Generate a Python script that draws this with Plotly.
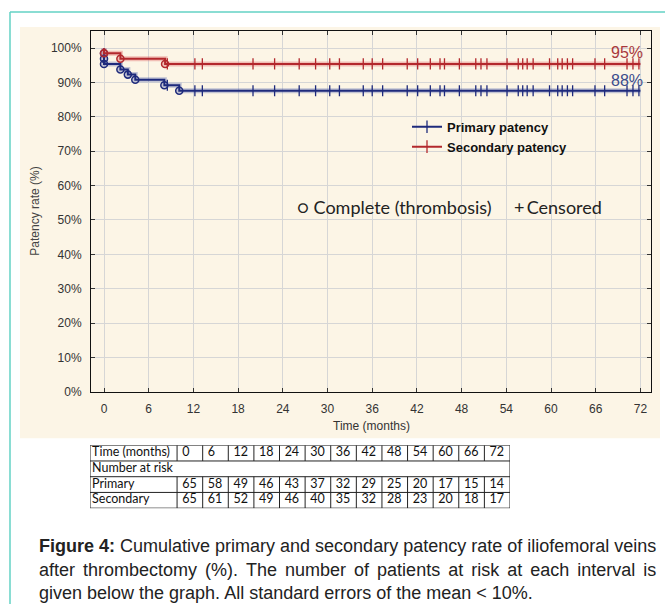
import plotly.graph_objects as go

W, H = 665, 605
FIG_H = 611  # compensates the slight vertical squeeze of the page photo

# ---------------- data ----------------
month_ticks = [0, 6, 12, 18, 24, 30, 36, 42, 48, 54, 60, 66, 72]
y_ticks = [0, 10, 20, 30, 40, 50, 60, 70, 80, 90, 100]
y_tick_labels = ["0%", "10%", "20%", "30%", "40%", "50%", "60%", "70%", "80%", "90%", "100%"]

primary_event_t = [0, 0, 0, 2.2, 3.2, 4.2, 8.1, 10.1]
primary_event_s = [98.5, 96.9, 95.4, 93.8, 92.3, 90.8, 89.2, 87.6]
secondary_event_t = [0, 2.2, 8.2]
secondary_event_s = [98.5, 96.9, 95.4]
censor_t = [8.5, 12.2, 13.2, 20.0, 22.9, 26.2, 28.4, 30.3, 31.6, 34.8, 36.0, 37.4,
            40.7, 42.1, 43.8, 45.1, 45.7, 47.7, 49.9, 50.6, 51.4, 54.1, 55.6, 56.2,
            56.8, 57.6, 59.8, 60.9, 61.5, 62.2, 62.9, 65.9, 67.2, 70.2, 71.0, 71.8]
follow_up_end = 72
primary_label = "88%"
secondary_label = "95%"

primary_at_risk = [65, 58, 49, 46, 43, 37, 32, 29, 25, 20, 17, 15, 14]
secondary_at_risk = [65, 61, 52, 49, 46, 40, 35, 32, 28, 23, 20, 18, 17]
table_row_labels = ["Time (months)", "Number at risk", "Primary", "Secondary"]

BLUE = "#1e2a7c"
RED = "#b3282d"
CREAM = "#fcf5e6"
TEAL = "#63d2c4"
FONT = "Liberation Sans"
TFONT = dict(family="Lato", size=12.5, color="#111")


def px(x):
    return x / W


def py(y):
    return 1 - y / H


def step_xy(ev_t, ev_s, end):
    xs = [0] + list(ev_t) + [end]
    ys = [100] + list(ev_s) + [ev_s[-1]]
    return xs, ys


def surv_at(t, ev_t, ev_s):
    s = 100
    for et, es in zip(ev_t, ev_s):
        if et <= t:
            s = es
    return s


fig = go.Figure()

series = [
    ("Primary patency", primary_event_t, primary_event_s, BLUE, "rgba(60,80,170,0.30)"),
    ("Secondary patency", secondary_event_t, secondary_event_s, RED, "rgba(220,90,90,0.35)"),
]

for name, et, es, col, halo in series:
    xs, ys = step_xy(et, es, follow_up_end)
    fig.add_trace(go.Scatter(x=xs, y=ys, mode="lines", line=dict(color=halo, width=5, shape="hv"),
                             showlegend=False, hoverinfo="skip"))
    fig.add_trace(go.Scatter(x=xs, y=ys, mode="lines", line=dict(color=col, width=2, shape="hv"),
                             showlegend=False, name=name))
    fig.add_trace(go.Scatter(x=et, y=es, mode="markers",
                             marker=dict(symbol="circle-open", size=7, color=col, line=dict(width=1.6, color=col)),
                             showlegend=False))
    cy = [surv_at(t, et, es) for t in censor_t]
    fig.add_trace(go.Scatter(x=censor_t, y=cy, mode="markers",
                             marker=dict(symbol="line-ns", size=8, line=dict(width=1.3, color=col)),
                             showlegend=False))

# legend entries
for name, et, es, col, halo in series:
    fig.add_trace(go.Scatter(x=[None], y=[None], mode="lines+markers", name=name,
                             line=dict(color=col, width=2),
                             marker=dict(symbol="line-ns", size=9, line=dict(width=1.3, color=col))))

# end labels
fig.add_annotation(x=follow_up_end, y=secondary_event_s[-1], text=secondary_label, showarrow=False,
                   xanchor="right", yanchor="bottom", xshift=5, yshift=1,
                   font=dict(family=FONT, size=16, color="#a8383c"))
fig.add_annotation(x=follow_up_end, y=primary_event_s[-1], text=primary_label, showarrow=False,
                   xanchor="right", yanchor="bottom", xshift=5, yshift=0,
                   font=dict(family=FONT, size=16, color="#3b4c8c"))

# ---------------- table (second axes) ----------------
ncol = len(month_ticks)
first_w = 3.4
for vals, yrow in [(month_ticks, 3.5), (primary_at_risk, 1.5), (secondary_at_risk, 0.5)]:
    fig.add_trace(go.Scatter(x=[i + 0.2 for i in range(ncol)], y=[yrow] * ncol, mode="text",
                             text=[str(v) for v in vals], textposition="middle right", textfont=TFONT,
                             xaxis="x2", yaxis="y2", showlegend=False, hoverinfo="skip"))
fig.add_trace(go.Scatter(x=[-first_w + 0.08] * 4, y=[3.5, 2.5, 1.5, 0.5], mode="text",
                         text=table_row_labels, textposition="middle right", textfont=TFONT,
                         xaxis="x2", yaxis="y2", showlegend=False, hoverinfo="skip"))

shapes = []
lc = dict(color="#222", width=1)
for r in range(5):
    shapes.append(dict(type="line", xref="x2", yref="y2", x0=-first_w, x1=ncol, y0=r, y1=r, line=lc))
for xv in [-first_w, ncol]:
    shapes.append(dict(type="line", xref="x2", yref="y2", x0=xv, x1=xv, y0=0, y1=4, line=lc))
for i in range(ncol):
    shapes.append(dict(type="line", xref="x2", yref="y2", x0=i, x1=i, y0=3, y1=4, line=lc))
    shapes.append(dict(type="line", xref="x2", yref="y2", x0=i, x1=i, y0=0, y1=2, line=lc))

# background panel + teal border
shapes.append(dict(type="rect", xref="paper", yref="paper", x0=px(20), x1=px(660), y0=py(439), y1=py(27),
                   fillcolor=CREAM, line=dict(width=0), layer="below"))
shapes.append(dict(type="line", xref="paper", yref="paper", x0=px(10), x1=1, y0=py(12), y1=py(12),
                   line=dict(color=TEAL, width=1.5)))
shapes.append(dict(type="line", xref="paper", yref="paper", x0=px(10), x1=px(10), y0=0, y1=py(12),
                   line=dict(color=TEAL, width=1.5)))

# annotations
fig.add_annotation(xref="paper", yref="paper", x=px(35), y=py(212), xanchor="center", yanchor="middle",
                   text="Patency rate (%)", textangle=-90,
                   showarrow=False, font=dict(family=FONT, size=12, color="#444"))
fig.add_annotation(xref="paper", yref="paper", x=px(371), y=py(427), xanchor="center", yanchor="middle",
                   text="Time (months)", showarrow=False, font=dict(family=FONT, size=12, color="#333"))
fig.add_annotation(xref="paper", yref="paper", x=px(295), y=py(207), xanchor="left", yanchor="middle",
                   text="○ Complete (thrombosis)", showarrow=False,
                   font=dict(family="Lato", size=18, color="#222"))
fig.add_annotation(xref="paper", yref="paper", x=px(512), y=py(207), xanchor="left", yanchor="middle",
                   text="+\u2009Censored", showarrow=False,
                   font=dict(family="Lato", size=18, color="#222"))

GAP = " \u2006"
caption = [
    "<b>Figure 4:</b> Cumulative primary and secondary patency rate of iliofemoral veins",
    GAP.join("after thrombectomy (%). The number of patients at risk at each interval is".split(" ")),
    "given below the graph. All standard errors of the mean < 10%.",
]
for k, line in enumerate(caption):
    fig.add_annotation(xref="paper", yref="paper", x=px(37), y=py(547 + 23.5 * k), xanchor="left",
                       yanchor="middle", text=line, showarrow=False,
                       font=dict(family=FONT, size=18, color="#222"))

axis_common = dict(showline=True, linecolor="#111", linewidth=1, mirror="allticks",
                   ticks="inside", ticklen=4, tickcolor="#333",
                   showgrid=True, gridcolor="#d6d6d6", gridwidth=1, zeroline=False,
                   tickfont=dict(family=FONT, size=12, color="#333"))

fig.update_layout(
    width=W, height=FIG_H,
    margin=dict(l=0, r=0, t=0, b=0),
    paper_bgcolor="white", plot_bgcolor="white",
    xaxis=dict(domain=[px(91), px(651)], range=[-1.745, 73.42], tickvals=month_ticks,
               ticklabelstandoff=6, **axis_common),
    yaxis=dict(domain=[py(392.5), py(31)], range=[0, 105], tickvals=y_ticks, ticktext=y_tick_labels,
               ticklabelstandoff=6, **axis_common),
    xaxis2=dict(domain=[px(90), px(510)], range=[-first_w, ncol], visible=False, anchor="y2"),
    yaxis2=dict(domain=[py(509), py(446)], range=[0, 4], visible=False, anchor="x2"),
    legend=dict(x=px(407), y=py(112), xanchor="left", yanchor="top", bgcolor="rgba(0,0,0,0)",
                font=dict(family=FONT, size=13, color="#111", weight="bold"),
                itemwidth=30, tracegroupgap=0),
    shapes=shapes,
    showlegend=True,
)

fig.write_html(
    "out.html",
    config={"displayModeBar": False},
    post_script=("document.documentElement.style.margin='0';"
                 "document.body.style.margin='0';"
                 "document.documentElement.style.overflow='hidden';"
                 "document.body.style.overflow='hidden';"),
)
